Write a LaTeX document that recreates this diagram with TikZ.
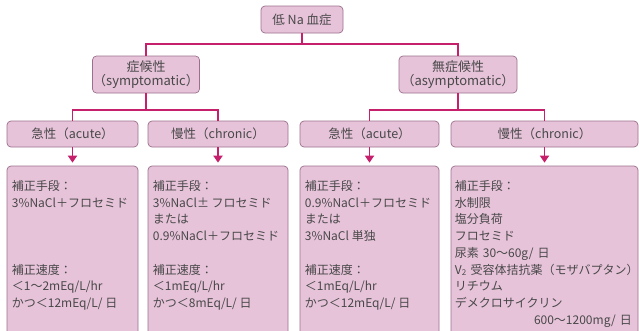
\documentclass[tikz,border=0pt]{standalone}
\usepackage{fontspec}
\setmainfont{Noto Sans CJK JP}
\usetikzlibrary{arrows.meta}
\definecolor{boxfill}{HTML}{E7C3DA}
\definecolor{boxline}{HTML}{9C6F8C}
\definecolor{connc}{HTML}{C61F6C}
\definecolor{txt}{HTML}{484848}
\tikzset{
  box/.style={draw=boxline, fill=boxfill, rounded corners=4pt, line width=0.7pt, inner sep=0pt, text=txt, align=center},
  hbox/.style={box, minimum height=26, font=\fontsize{12.5}{15}\selectfont},
  bbox/.style={box, minimum height=180},
  conn/.style={draw=connc, line width=1.8pt},
  arr/.style={conn, shorten >=3pt, -{Triangle[width=9pt,length=7pt]}},
  btext/.style={anchor=north west, align=left, inner sep=0pt, text=txt, font=\fontsize{12}{16.75}\selectfont}
}
\begin{document}
\begin{tikzpicture}[x=1pt,y=-1pt]
\useasboundingbox (0,0) rectangle (639,330);
\path[clip] (0,0) rectangle (639,330);
\fill[white] (0,0) rectangle (639,330);
% level 0
\node[box, minimum width=82, minimum height=27, font=\fontsize{12.5}{15}\selectfont] (top) at (302,19.5) {低 Na 血症};
% level 1
\node[box, minimum width=107, minimum height=37, font=\fontsize{13}{14.5}\selectfont] (sym) at (146,74.5) {症候性\\（symptomatic）};
\node[box, minimum width=118, minimum height=37, font=\fontsize{13}{14.5}\selectfont] (asym) at (458,74.5) {無症候性\\（asymptomatic）};
% level 2 headers
\node[hbox, minimum width=131] (lah) at (72.5,134) {急性（acute）};
\node[hbox, minimum width=140] (lch) at (218,134) {慢性（chronic）};
\node[hbox, minimum width=139] (rah) at (369.5,134) {急性（acute）};
\node[hbox, minimum width=187] (rch) at (544.5,134) {慢性（chronic）};
% level 3 boxes
\node[bbox, minimum width=131] (lab) at (72.5,256) {};
\node[bbox, minimum width=140] (lcb) at (218,256) {};
\node[bbox, minimum width=139] (rab) at (369.5,256) {};
\node[bbox, minimum width=187] (rcb) at (544.5,256) {};
% texts
\node[btext] (labt) at ([xshift=5pt,yshift=-14.5pt]lab.north west) {補正手段：\\3\%NaCl＋フロセミド\\[50.25pt]補正速度：\\＜1〜2mEq/L/hr\\かつ＜12mEq/L/ 日};
\node[btext] (lcbt) at ([xshift=5pt,yshift=-14.5pt]lcb.north west) {補正手段：\\3\%NaCl± フロセミド\\または\\0.9\%NaCl＋フロセミド\\[16.75pt]補正速度：\\＜1mEq/L/hr\\かつ＜8mEq/L/ 日};
\node[btext] (rabt) at ([xshift=5pt,yshift=-14.5pt]rab.north west) {補正手段：\\0.9\%NaCl＋フロセミド\\または\\3\%NaCl 単独\\[16.75pt]補正速度：\\＜1mEq/L/hr\\かつ＜12mEq/L/ 日};
\node[btext, text width=177pt] (rcbt) at ([xshift=4pt,yshift=-14.5pt]rcb.north west) {補正手段：\\水制限\\塩分負荷\\フロセミド\\尿素 30〜60g/ 日\\\mbox{V\textsubscript{2} 受容体拮抗薬（モザバプタン）}\\リチウム\\デメクロサイクリン\\\hspace*{\fill}600〜1200mg/ 日};
% connectors
\draw[conn] (top.south) -- ++(0,11) coordinate (j1);
\draw[conn] (sym.north) |- (j1) -| (asym.north);
\draw[conn] (sym.south) -- ++(0,17) coordinate (j2);
\draw[conn] (lah.north) |- (j2) -| (lch.north);
\draw[conn] (asym.south) -- ++(0,17) coordinate (j3);
\draw[conn] (rah.north) |- (j3) -| (rch.north);
\draw[arr] (lah.south) -- (lab.north);
\draw[arr] (lch.south) -- (lcb.north);
\draw[arr] (rah.south) -- (rab.north);
\draw[arr] (rch.south) -- (rcb.north);
\end{tikzpicture}
\end{document}
